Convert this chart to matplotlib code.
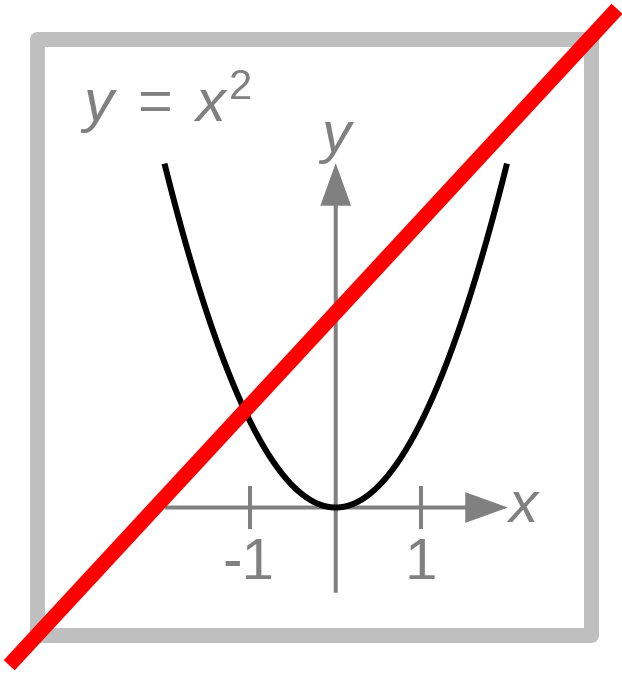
import numpy as np
import matplotlib
matplotlib.use('Agg')
import matplotlib.pyplot as plt
from matplotlib.patches import Rectangle

plt.rcParams['font.family'] = ['Liberation Sans', 'DejaVu Sans']
plt.rcParams['mathtext.fontset'] = 'custom'
plt.rcParams['mathtext.rm'] = 'Liberation Sans'
plt.rcParams['mathtext.it'] = 'Liberation Sans:italic'

# data
curve_x = np.linspace(-2, 2, 300)
curve_y = curve_x ** 2
tick_pos = [-1, 1]
tick_labels = ['-1', '1']
x_axis = (-2.0, 2.02)
y_axis = (-1.0, 4.04)
frame = (-3.5, -1.5, 3.0, 5.5)           # x0, y0, x1, y1
strike_x = [-3.83, 3.30]
strike_y = [-1.85, 5.85]

GRAY = '#808080'
LIGHT = '#bfbfbf'

fig = plt.figure(figsize=(6.22, 6.73), dpi=100)
ax = fig.add_axes([0, 0, 1, 1])
ax.set_xlim(-3.938, 3.358)
ax.set_ylim(-1.941, 5.953)
ax.axis('off')

# frame
ax.add_patch(Rectangle((frame[0], frame[1]), frame[2] - frame[0], frame[3] - frame[1],
                       fill=False, ec=LIGHT, lw=10.8, joinstyle='round'))

# axes with arrows
ax.arrow(x_axis[0], 0, x_axis[1] - x_axis[0], 0, width=0.047, head_width=0.36,
         head_length=0.5, length_includes_head=True, fc=GRAY, ec='none')
ax.arrow(0, y_axis[0], 0, y_axis[1] - y_axis[0], width=0.047, head_width=0.36,
         head_length=0.5, length_includes_head=True, fc=GRAY, ec='none')
for p, lab in zip(tick_pos, tick_labels):
    ax.plot([p, p], [-0.25, 0.25], color=GRAY, lw=2.9, solid_capstyle='butt')
    ax.text(p - 0.02 * (p < 0), -0.84, lab, color=GRAY, fontsize=42,
            ha='center', va='baseline')
ax.text(2.02, -0.17, 'x', color=GRAY, fontsize=42, style='italic',
        ha='left', va='baseline')
ax.text(0.0, 4.17, 'y', color=GRAY, fontsize=42, style='italic',
        ha='center', va='baseline')

# the curve
ax.plot(curve_x, curve_y, color='black', lw=4.3)

# label
ax.text(-3.0, 4.52, r'$y\;=\;x^{2}$', color=GRAY, fontsize=43,
        ha='left', va='baseline')

# strike-through
ax.plot(strike_x, strike_y, color='#ff0000', lw=10.8, solid_capstyle='butt')

fig.savefig('out.png', dpi=100)
